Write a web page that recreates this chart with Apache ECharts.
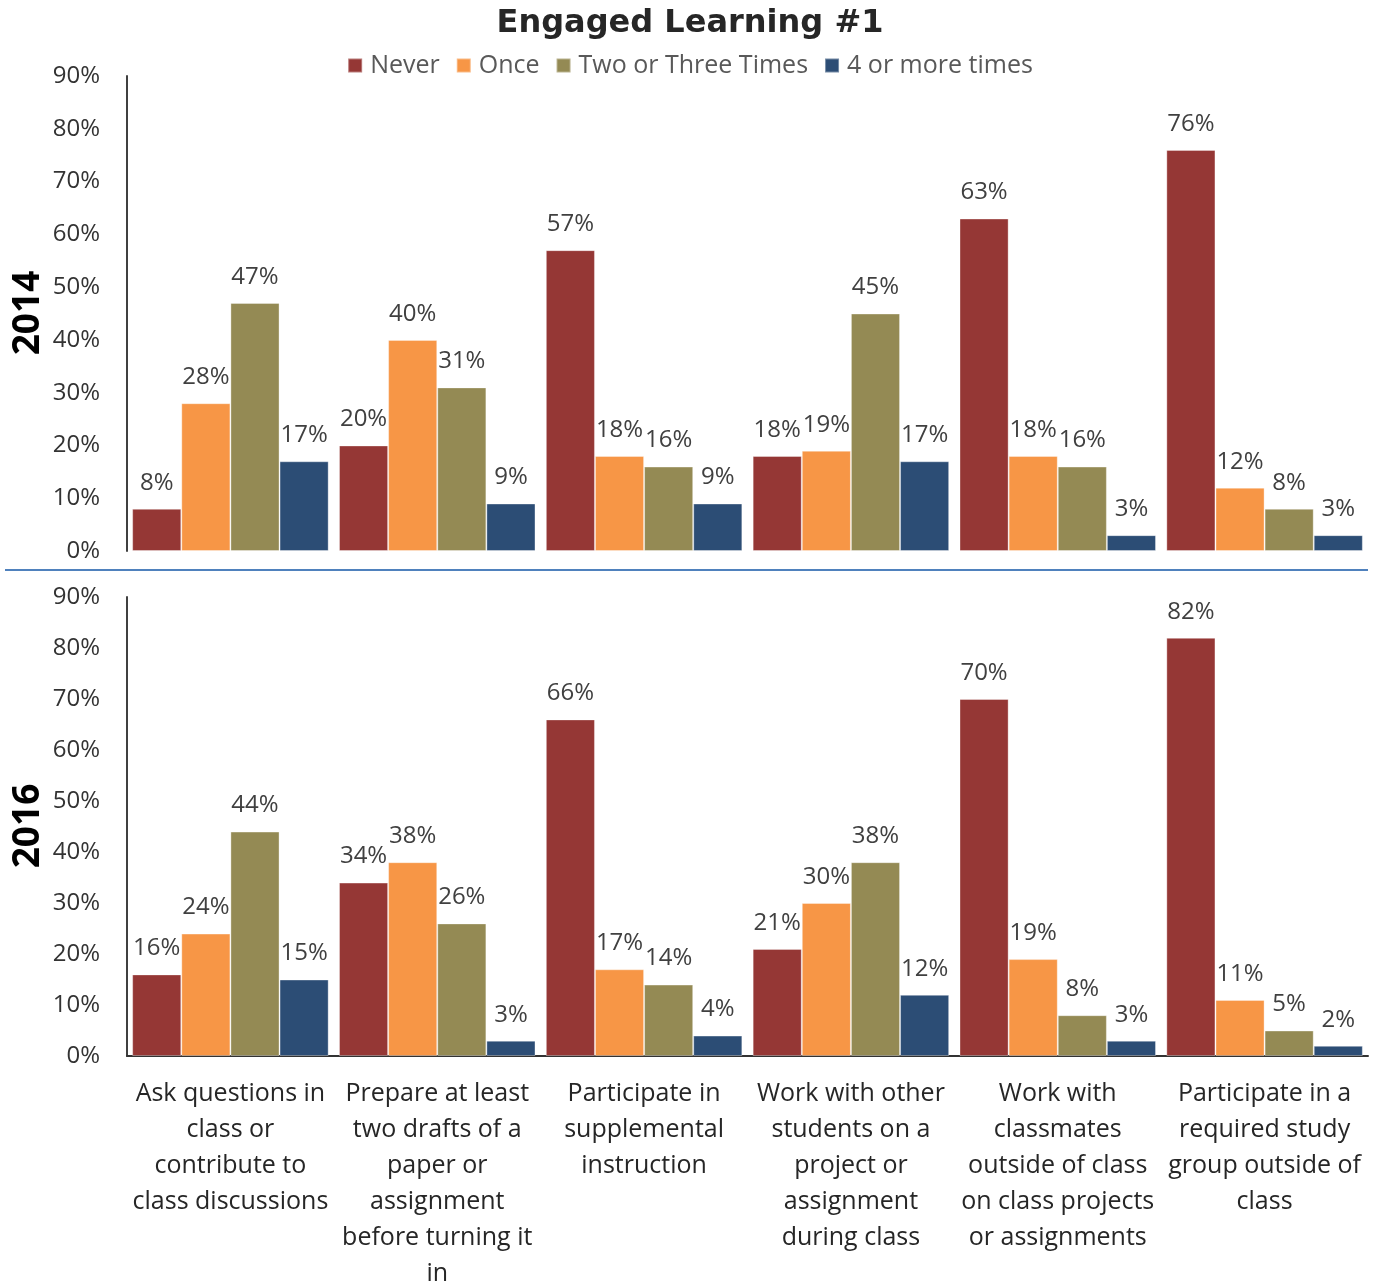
<!DOCTYPE html>
<html>
<head>
<meta charset="utf-8">
<title>Engaged Learning #1</title>
<script src="https://cdn.jsdelivr.net/npm/echarts@6/dist/echarts.min.js"></script>
<style>
  html, body { margin: 0; padding: 0; background: #fff; }
  #chart { width: 1380px; height: 1285px; }
</style>
</head>
<body>
<div id="chart"></div>
<script>
// Survey items (line breaks give the wrapped axis labels)
const categories = [
  'Ask questions in\nclass or\ncontribute to\nclass discussions',
  'Prepare at least\ntwo drafts of a\npaper or\nassignment\nbefore turning it\nin',
  'Participate in\nsupplemental\ninstruction',
  'Work with other\nstudents on a\nproject or\nassignment\nduring class',
  'Work with\nclassmates\noutside of class\non class projects\nor assignments',
  'Participate in a\nrequired study\ngroup outside of\nclass'
];
const seriesNames = ['Never', 'Once', 'Two or Three Times', '4 or more times'];
const colors = ['#953735', '#F79646', '#948A54', '#2C4D75'];

// Percent of respondents, 2014
const never2014 = [8, 20, 57, 18, 63, 76];
const once2014 = [28, 40, 18, 19, 18, 12];
const twoThree2014 = [47, 31, 16, 45, 16, 8];
const fourPlus2014 = [17, 9, 9, 17, 3, 3];

// Percent of respondents, 2016
const never2016 = [16, 34, 66, 21, 70, 82];
const once2016 = [24, 38, 17, 30, 19, 11];
const twoThree2016 = [44, 26, 14, 38, 8, 5];
const fourPlus2016 = [15, 3, 4, 12, 3, 2];

const yearLabels = ['2014', '2016'];

const FONT = '"Open Sans", "Noto Sans", sans-serif';
const data2014 = [never2014, once2014, twoThree2014, fourPlus2014];
const data2016 = [never2016, once2016, twoThree2016, fourPlus2016];

function makeSeries(dataSets, gridIdx) {
  return dataSets.map((vals, i) => ({
    name: seriesNames[i],
    type: 'bar',
    xAxisIndex: gridIdx,
    yAxisIndex: gridIdx,
    data: vals,
    barGap: '0%',
    barCategoryGap: '5%',
    itemStyle: { color: colors[i], borderColor: 'rgba(255,255,255,0.35)', borderWidth: 1 },
    label: {
      show: true,
      position: 'top',
      distance: 14,
      formatter: p => p.value + '%',
      fontFamily: FONT,
      fontSize: 24,
      color: '#404040'
    }
  }));
}

const yAxisCommon = {
  type: 'value',
  min: 0,
  max: 90,
  interval: 10,
  splitLine: { show: false },
  axisTick: { show: false },
  axisLine: { show: true, lineStyle: { color: '#404040', width: 2 } },
  axisLabel: {
    formatter: '{value}%',
    fontFamily: FONT,
    fontSize: 24,
    color: '#333',
    margin: 27
  }
};

const chart = echarts.init(document.getElementById('chart'), null, { renderer: 'canvas' });

chart.setOption({
  animation: false,
  backgroundColor: '#fff',
  title: {
    text: 'Engaged Learning #1',
    left: 'center',
    top: 3,
    textStyle: { fontFamily: '"DejaVu Sans", sans-serif', fontWeight: 'bold', fontSize: 32, color: '#262626' }
  },
  legend: {
    top: 48,
    left: 'center',
    itemWidth: 14,
    itemHeight: 14,
    itemGap: 16,
    icon: 'rect',
    data: seriesNames,
    textStyle: { fontFamily: FONT, fontSize: 25, color: '#595959', padding: [0, 0, 0, 3] }
  },
  grid: [
    { left: 127, right: 12, top: 76, height: 475, outerBoundsMode: 'none' },
    { left: 127, right: 12, top: 597, height: 459, outerBoundsMode: 'none' }
  ],
  xAxis: [
    {
      type: 'category', gridIndex: 0, data: categories,
      axisLine: { show: false }, axisTick: { show: false }, axisLabel: { show: false }
    },
    {
      type: 'category', gridIndex: 1, data: categories,
      axisLine: { show: true, lineStyle: { color: '#333', width: 2 } },
      axisTick: { show: false },
      axisLabel: {
        interval: 0,
        margin: 20,
        fontFamily: FONT,
        fontSize: 25,
        lineHeight: 36,
        color: '#262626',
        align: 'center'
      }
    }
  ],
  yAxis: [
    Object.assign({ gridIndex: 0 }, yAxisCommon),
    Object.assign({ gridIndex: 1 }, yAxisCommon)
  ],
  series: makeSeries(data2014, 0).concat(makeSeries(data2016, 1)),
  graphic: [
    {
      type: 'line',
      shape: { x1: 5, y1: 570, x2: 1368, y2: 570 },
      style: { stroke: '#4F81BD', lineWidth: 2 }
    },
    {
      type: 'text',
      x: 28, y: 313, rotation: Math.PI / 2,
      style: {
        text: yearLabels[0], fontFamily: FONT, fontWeight: 'bold', fontSize: 37,
        fill: '#000', align: 'center', verticalAlign: 'middle'
      }
    },
    {
      type: 'text',
      x: 28, y: 826, rotation: Math.PI / 2,
      style: {
        text: yearLabels[1], fontFamily: FONT, fontWeight: 'bold', fontSize: 37,
        fill: '#000', align: 'center', verticalAlign: 'middle'
      }
    }
  ]
});
</script>
</body>
</html>
